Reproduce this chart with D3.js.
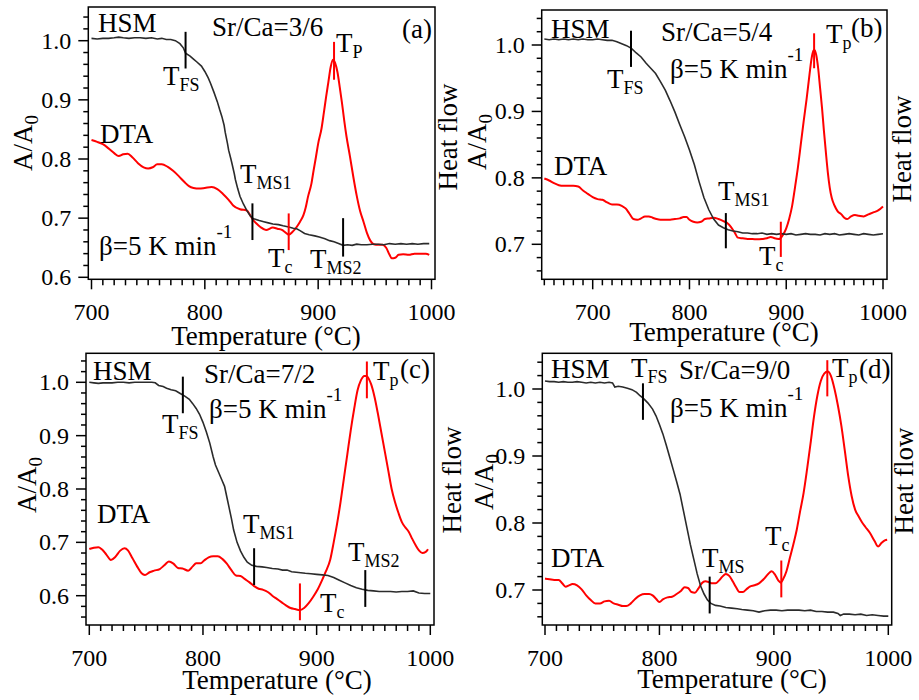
<!DOCTYPE html>
<html><head><meta charset="utf-8">
<script src="https://cdn.jsdelivr.net/npm/d3@7"></script>
<style>
body{margin:0;background:#fff}
svg{display:block}
text{font-family:"Liberation Serif","Times New Roman",serif;fill:#000}
</style>
</head><body>
<svg id="chart" width="919" height="700"></svg>
<script>
// ---------------- DATA ----------------
// HSM curves: [temperature °C, A/A0]
const hsmA = [[700,1.004],[705,1.003],[710,1.004],[715,1.004],[720,1.005],[724,1.006],[728,1.005],[733,1.004],[738,1.005],[743,1.005],[748,1.004],[753,1.005],[758,1.003],[762,1.004],[766,1.002],[770,1.002],[774,1.000],[778,0.995],[781,0.988],[783,0.979],[787,0.974],[790,0.969],[793,0.964],[797,0.957],[800,0.948],[803,0.937],[805,0.928],[808,0.913],[811,0.897],[813,0.884],[815,0.872],[817,0.857],[818,0.845],[820,0.826],[821,0.815],[823,0.800],[824,0.792],[826,0.775],[827,0.765],[829,0.750],[831,0.737],[834,0.724],[837,0.713],[840,0.704],[843,0.699],[848,0.696],[852,0.694],[856,0.692],[860,0.690],[865,0.689],[869,0.687],[874,0.685],[878,0.683],[881,0.682],[884,0.679],[888,0.674],[892,0.672],[897,0.670],[901,0.668],[906,0.665],[910,0.662],[914,0.660],[918,0.657],[922,0.654],[926,0.655],[930,0.654],[934,0.656],[938,0.655],[943,0.655],[948,0.656],[953,0.656],[958,0.655],[963,0.657],[968,0.656],[973,0.657],[978,0.656],[983,0.657],[988,0.656],[993,0.657],[998,0.657]];
const hsmB = [[650,1.009],[655,1.008],[660,1.009],[665,1.008],[670,1.009],[675,1.008],[680,1.009],[685,1.008],[690,1.009],[695,1.008],[700,1.008],[705,1.009],[710,1.008],[715,1.007],[720,1.007],[725,1.005],[730,1.002],[735,0.999],[740,0.995],[745,0.988],[750,0.982],[755,0.973],[760,0.965],[765,0.957],[770,0.945],[775,0.932],[780,0.916],[785,0.899],[790,0.880],[795,0.862],[800,0.842],[805,0.820],[810,0.794],[815,0.770],[820,0.752],[825,0.738],[830,0.729],[835,0.725],[840,0.722],[845,0.720],[850,0.719],[855,0.717],[860,0.717],[865,0.716],[870,0.716],[875,0.717],[880,0.715],[885,0.716],[890,0.715],[895,0.716],[900,0.715],[905,0.716],[910,0.714],[915,0.715],[920,0.716],[925,0.715],[930,0.715],[935,0.714],[940,0.716],[945,0.715],[950,0.716],[955,0.714],[960,0.715],[965,0.716],[970,0.715],[975,0.714],[980,0.716],[985,0.715],[990,0.714],[995,0.715],[1000,0.716]];
const hsmC = [[700,1.000],[704,0.999],[708,0.998],[712,0.999],[716,0.999],[720,0.999],[725,1.000],[730,1.000],[735,0.999],[740,1.000],[745,1.000],[750,1.000],[755,1.000],[758,0.999],[761,0.994],[765,0.992],[768,0.989],[772,0.986],[776,0.984],[780,0.979],[784,0.974],[788,0.968],[791,0.960],[794,0.951],[797,0.940],[800,0.925],[803,0.907],[806,0.886],[809,0.860],[811,0.845],[814,0.830],[817,0.815],[819,0.805],[821,0.785],[823,0.765],[825,0.745],[827,0.723],[830,0.700],[833,0.684],[836,0.672],[839,0.663],[843,0.657],[847,0.655],[852,0.654],[856,0.653],[861,0.651],[866,0.650],[870,0.648],[874,0.648],[878,0.645],[882,0.644],[886,0.643],[890,0.642],[895,0.641],[900,0.640],[905,0.639],[910,0.638],[915,0.634],[920,0.629],[925,0.624],[930,0.619],[935,0.615],[940,0.612],[945,0.610],[950,0.609],[955,0.608],[960,0.608],[965,0.608],[970,0.607],[975,0.608],[980,0.608],[985,0.609],[990,0.605],[995,0.604],[1000,0.604]];
const hsmD = [[700,1.012],[704,1.011],[708,1.011],[712,1.010],[716,1.011],[720,1.010],[724,1.010],[728,1.011],[732,1.010],[736,1.009],[740,1.010],[744,1.009],[748,1.010],[752,1.009],[756,1.010],[759,1.009],[761,1.003],[764,1.004],[768,1.003],[772,1.001],[776,0.999],[780,0.995],[783,0.990],[786,0.986],[790,0.979],[794,0.970],[797,0.960],[800,0.947],[803,0.933],[806,0.916],[809,0.898],[812,0.880],[815,0.862],[818,0.843],[821,0.818],[824,0.793],[827,0.768],[830,0.746],[833,0.724],[836,0.706],[839,0.694],[842,0.685],[845,0.680],[849,0.677],[853,0.676],[858,0.674],[863,0.673],[868,0.672],[872,0.671],[877,0.670],[882,0.669],[887,0.667],[892,0.669],[897,0.670],[902,0.670],[907,0.669],[912,0.670],[917,0.670],[922,0.670],[927,0.669],[932,0.670],[937,0.668],[942,0.668],[947,0.667],[952,0.667],[956,0.665],[958,0.662],[961,0.664],[966,0.664],[971,0.663],[976,0.664],[981,0.662],[986,0.663],[991,0.662],[996,0.661],[1000,0.661]];

// DTA curves: [temperature °C, heat flow (arbitrary units, plotted on the right axis)]
const dtaA = [[700,0.832],[705,0.829],[710,0.825],[715,0.818],[720,0.810],[724,0.805],[728,0.808],[732,0.809],[736,0.803],[741,0.793],[746,0.786],[750,0.784],[754,0.786],[758,0.791],[762,0.791],[767,0.787],[772,0.780],[777,0.771],[782,0.761],[786,0.754],[790,0.751],[795,0.750],[800,0.751],[806,0.7525],[811,0.749],[816,0.741],[821,0.731],[825,0.7215],[831,0.715],[837,0.713],[840,0.705],[843,0.696],[846,0.690],[849,0.685],[854,0.680],[860,0.684],[864,0.682],[868,0.680],[871,0.676],[874,0.672],[878,0.678],[881,0.685],[884,0.694],[887,0.705],[889,0.718],[891,0.736],[894,0.758],[896,0.781],[898,0.803],[900,0.826],[903,0.852],[905,0.878],[907,0.905],[909,0.930],[911,0.955],[913,0.968],[915,0.962],[917,0.947],[919,0.922],[921,0.895],[923,0.865],[925,0.838],[928,0.805],[931,0.770],[934,0.738],[937,0.712],[940,0.694],[943,0.675],[946,0.662],[949,0.656],[953,0.655],[957,0.655],[960,0.650],[963,0.638],[965,0.632],[968,0.633],[971,0.638],[975,0.639],[980,0.638],[985,0.640],[990,0.640],[995,0.640],[998,0.638]];
const dtaB = [[650,0.799],[655,0.796],[660,0.792],[665,0.789],[670,0.788],[675,0.788],[680,0.788],[685,0.787],[690,0.781],[695,0.776],[700,0.771],[705,0.768],[710,0.767],[715,0.763],[720,0.760],[725,0.760],[730,0.758],[734,0.754],[738,0.746],[742,0.738],[746,0.737],[750,0.739],[754,0.742],[758,0.742],[762,0.740],[766,0.738],[770,0.737],[775,0.737],[780,0.737],[785,0.738],[790,0.739],[794,0.741],[797,0.741],[800,0.737],[804,0.734],[808,0.733],[812,0.734],[816,0.738],[820,0.739],[825,0.740],[830,0.738],[835,0.735],[839,0.732],[843,0.726],[847,0.717],[850,0.710],[855,0.709],[860,0.708],[865,0.708],[870,0.7075],[875,0.708],[880,0.709],[884,0.711],[888,0.709],[892,0.708],[894,0.709],[897,0.715],[900,0.724],[903,0.738],[906,0.757],[909,0.785],[912,0.815],[915,0.850],[918,0.885],[921,0.918],[924,0.955],[926,0.978],[928,0.991],[929,0.993],[931,0.985],[933,0.965],[935,0.935],[937,0.905],[939,0.870],[941,0.838],[943,0.808],[945,0.785],[947,0.770],[950,0.758],[953,0.750],[957,0.745],[960,0.740],[963,0.738],[967,0.742],[971,0.744],[975,0.743],[980,0.742],[985,0.745],[990,0.748],[995,0.751],[1000,0.757]];
const dtaC = [[700,0.6875],[704,0.690],[708,0.691],[711,0.687],[715,0.677],[719,0.667],[723,0.673],[727,0.684],[731,0.689],[734,0.685],[738,0.670],[742,0.655],[746,0.642],[749,0.639],[753,0.644],[757,0.647],[762,0.650],[766,0.657],[770,0.664],[774,0.660],[778,0.652],[782,0.651],[787,0.647],[791,0.655],[794,0.661],[798,0.661],[801,0.666],[805,0.672],[809,0.674],[813,0.674],[817,0.669],[821,0.660],[825,0.648],[829,0.638],[833,0.637],[837,0.631],[841,0.625],[845,0.618],[849,0.613],[853,0.611],[857,0.607],[861,0.600],[865,0.594],[869,0.588],[873,0.582],[877,0.577],[881,0.575],[885,0.573],[889,0.577],[893,0.586],[897,0.598],[901,0.612],[905,0.630],[908,0.645],[912,0.668],[915,0.700],[918,0.735],[921,0.775],[924,0.820],[927,0.865],[930,0.910],[933,0.950],[936,0.985],[939,1.004],[942,1.012],[944,1.012],[946,1.006],[948,0.996],[951,0.972],[954,0.940],[957,0.905],[960,0.870],[963,0.835],[966,0.800],[969,0.775],[972,0.755],[975,0.738],[978,0.728],[981,0.720],[984,0.707],[987,0.695],[990,0.685],[993,0.680],[996,0.682],[998,0.687]];
const dtaD = [[700,0.717],[704,0.716],[708,0.715],[712,0.715],[715,0.710],[718,0.705],[721,0.707],[724,0.709],[728,0.707],[732,0.701],[736,0.692],[740,0.685],[744,0.680],[748,0.680],[752,0.683],[756,0.684],[760,0.680],[764,0.678],[768,0.676],[771,0.676],[775,0.680],[779,0.687],[783,0.692],[787,0.694],[791,0.694],[794,0.692],[797,0.687],[800,0.682],[803,0.686],[807,0.689],[811,0.690],[815,0.694],[819,0.699],[822,0.704],[825,0.703],[828,0.697],[831,0.696],[834,0.702],[837,0.710],[840,0.713],[843,0.712],[846,0.710],[849,0.710],[852,0.714],[855,0.720],[858,0.724],[861,0.721],[864,0.713],[867,0.704],[870,0.697],[873,0.697],[876,0.701],[879,0.705],[883,0.707],[887,0.710],[891,0.716],[895,0.724],[898,0.728],[901,0.723],[904,0.714],[906,0.711],[908,0.716],[911,0.728],[914,0.748],[917,0.768],[920,0.790],[923,0.818],[926,0.845],[929,0.880],[932,0.918],[935,0.958],[938,0.990],[941,1.012],[944,1.023],[947,1.026],[950,1.019],[953,1.000],[956,0.975],[959,0.945],[962,0.908],[965,0.870],[968,0.840],[971,0.820],[974,0.810],[977,0.801],[980,0.794],[984,0.785],[988,0.773],[991,0.765],[994,0.770],[997,0.774],[999,0.775]];

// Characteristic-temperature markers: [temperature, lower value, upper value]
const hsmMarksA = [[783,0.953,1.015],[842,0.663,0.725],[922,0.635,0.700]];
const dtaMarksA = [[874,0.646,0.708],[914,0.934,0.998]];
const hsmMarksB = [[739.6,0.967,1.0215],[837.6,0.694,0.747]];
const dtaMarksB = [[894.4,0.681,0.734],[928.8,0.965,1.0176]];
const hsmMarksC = [[782.3,0.942,1.0106],[845,0.620,0.689],[942.8,0.579,0.648]];
const dtaMarksC = [[885.3,0.554,0.623],[944.2,0.970,1.039]];
const hsmMarksD = [[785.6,0.954,1.0085],[843.9,0.665,0.720]];
const dtaMarksD = [[906.5,0.689,0.744],[946.7,0.989,1.043]];

// Tick labels
const xLabelsA = [700,800,900,1000], yLabelsA = [0.6,0.7,0.8,0.9,1.0];
const xLabelsB = [700,800,900,1000], yLabelsB = [0.7,0.8,0.9,1.0];
const xLabelsC = [700,800,900,1000], yLabelsC = [0.6,0.7,0.8,0.9,1.0];
const xLabelsD = [700,800,900,1000], yLabelsD = [0.7,0.8,0.9,1.0];

// Texts
const compositions = ["Sr/Ca=3/6","Sr/Ca=5/4","Sr/Ca=7/2","Sr/Ca=9/0"];
const panelTags = ["(a)","(b)","(c)","(d)"];
const xTitle = "Temperature (°C)";
const yTitle = ["A/A","0"];
const y2Title = "Heat flow";

// ---------------- LAYOUT ----------------
const panels = [
  {hsm:hsmA, dta:dtaA, hm:hsmMarksA, dm:dtaMarksA, xl:xLabelsA, yl:yLabelsA,
   frame:[88.3,7,435,279.3], xDom:[700,1000], xRng:[91.5,431.5], yDom:[1.0,0.6], yRng:[40.7,277.3],
   xMinor:[700,1000], yMinor:[0.6,1.04],
   xTitle:[266,345], yTitle:[32,143], y2Title:[457,137],
   labels:[
     {m:"HSM",x:98,y:32},{m:compositions[0],x:212,y:36},{m:panelTags[0],x:402,y:38},
     {m:"T",s:"FS",x:163,y:85},{m:"DTA",x:100,y:143},{m:"T",s:"MS1",x:240,y:183},
     {m:"β=5 K min",p:"-1",x:99,y:255},{m:"T",s:"c",x:268,y:267},{m:"T",s:"MS2",x:310,y:268},
     {m:"T",s:"P",x:336,y:52}]},
  {hsm:hsmB, dta:dtaB, hm:hsmMarksB, dm:dtaMarksB, xl:xLabelsB, yl:yLabelsB,
   frame:[541.7,10,887,279.3], xDom:[700,1000], xRng:[592.7,883], yDom:[1.0,0.7], yRng:[45,244.3],
   xMinor:[650,1000], yMinor:[0.66,1.04],
   xTitle:[724,341], yTitle:[486,142], y2Title:[911,149],
   labels:[
     {m:"HSM",x:551,y:38},{m:compositions[1],x:661,y:41},{m:panelTags[1],x:851,y:37},
     {m:"β=5 K min",p:"-1",x:670,y:78},
     {m:"T",s:"FS",x:607,y:88},{m:"DTA",x:554,y:175},{m:"T",s:"MS1",x:718,y:200},
     {m:"T",s:"c",x:759,y:265},{m:"T",s:"p",x:826,y:43}]},
  {hsm:hsmC, dta:dtaC, hm:hsmMarksC, dm:dtaMarksC, xl:xLabelsC, yl:yLabelsC,
   frame:[86,353.3,434,625], xDom:[700,1000], xRng:[89.3,430.3], yDom:[1.0,0.6], yRng:[382.3,595.7],
   xMinor:[700,1000], yMinor:[0.56,1.04],
   xTitle:[277,689], yTitle:[36,485], y2Title:[461,480],
   labels:[
     {m:"HSM",x:93,y:380},{m:compositions[2],x:204,y:383},{m:panelTags[2],x:400,y:378},
     {m:"β=5 K min",p:"-1",x:209,y:418},
     {m:"T",s:"FS",x:162,y:433},{m:"DTA",x:97,y:523},{m:"T",s:"MS1",x:243,y:533},
     {m:"T",s:"c",x:320,y:612},{m:"T",s:"MS2",x:348,y:561},{m:"T",s:"p",x:373,y:380}]},
  {hsm:hsmD, dta:dtaD, hm:hsmMarksD, dm:dtaMarksD, xl:xLabelsD, yl:yLabelsD,
   frame:[542.3,353.3,891.7,625], xDom:[700,1000], xRng:[545,888.3], yDom:[1.0,0.7], yRng:[389,590],
   xMinor:[700,1000], yMinor:[0.66,1.04],
   xTitle:[732,688], yTitle:[493,482], y2Title:[913,481],
   labels:[
     {m:"HSM",x:551,y:378},{m:"T",s:"FS",x:631,y:377},{m:compositions[3],x:679,y:379},
     {m:panelTags[3],x:859,y:378},{m:"β=5 K min",p:"-1",x:670,y:417},
     {m:"T",s:"p",x:832,y:377},{m:"DTA",x:551,y:567},{m:"T",s:"MS",x:702,y:567},
     {m:"T",s:"c",x:765,y:545}]}
];

const HSM_COLOR = "#2b2b2b", DTA_COLOR = "#ff0000";
const svg = d3.select("#chart");

function addText(g, L, size) {
  const t = g.append("text").attr("x", L.x).attr("y", L.y).attr("font-size", size || 27);
  t.append("tspan").text(L.m);
  if (L.s) t.append("tspan").attr("dy", 6).attr("font-size", 18).text(L.s);
  if (L.p) t.append("tspan").attr("dy", -17).attr("font-size", 19).text(L.p);
  return t;
}

panels.forEach(P => {
  const g = svg.append("g");
  const x = d3.scaleLinear().domain(P.xDom).range(P.xRng);
  const y = d3.scaleLinear().domain(P.yDom).range(P.yRng);
  const yHeat = d3.scaleLinear().domain(P.yDom).range(P.yRng); // right (Heat flow) axis, no ticks
  const [fl, ft, fr, fb] = P.frame;

  // x ticks (outward, below frame)
  const xMin = d3.range(P.xMinor[0], P.xMinor[1] + 0.1, 10);
  g.append("g").selectAll("line").data(xMin).join("line")
    .attr("x1", d => x(d)).attr("x2", d => x(d))
    .attr("y1", fb).attr("y2", d => fb + (d % 100 === 0 ? 10 : 6))
    .attr("stroke", "#000").attr("stroke-width", 1.5);
  g.append("g").selectAll("text").data(P.xl).join("text")
    .attr("x", d => x(d)).attr("y", fb + 41).attr("text-anchor", "middle")
    .attr("font-size", 24).text(d => d);

  // y ticks (outward, left of frame)
  const yMin = d3.range(Math.round(P.yMinor[0]*100), Math.round(P.yMinor[1]*100) + 1, 2);
  g.append("g").selectAll("line").data(yMin).join("line")
    .attr("x1", fl).attr("x2", d => fl - (d % 10 === 0 ? 10 : 5))
    .attr("y1", d => y(d/100)).attr("y2", d => y(d/100))
    .attr("stroke", "#000").attr("stroke-width", 1.5);
  g.append("g").selectAll("text").data(P.yl).join("text")
    .attr("x", fl - 17).attr("y", d => y(d) + 8).attr("text-anchor", "end")
    .attr("font-size", 24).text(d => d.toFixed(1));

  // frame
  g.append("rect").attr("x", fl).attr("y", ft).attr("width", fr - fl).attr("height", fb - ft)
    .attr("fill", "none").attr("stroke", "#000").attr("stroke-width", 1.5);

  // curves
  g.append("path").datum(P.dta)
    .attr("d", d3.line().x(d => x(d[0])).y(d => yHeat(d[1])).curve(d3.curveMonotoneX))
    .attr("fill", "none").attr("stroke", DTA_COLOR).attr("stroke-width", 2);
  g.append("path").datum(P.hsm)
    .attr("d", d3.line().x(d => x(d[0])).y(d => y(d[1])))
    .attr("fill", "none").attr("stroke", HSM_COLOR).attr("stroke-width", 1.6);

  // markers
  g.append("g").selectAll("line").data(P.hm).join("line")
    .attr("x1", d => x(d[0])).attr("x2", d => x(d[0]))
    .attr("y1", d => y(d[1])).attr("y2", d => y(d[2]))
    .attr("stroke", "#000").attr("stroke-width", 2);
  g.append("g").selectAll("line").data(P.dm).join("line")
    .attr("x1", d => x(d[0])).attr("x2", d => x(d[0]))
    .attr("y1", d => yHeat(d[1])).attr("y2", d => yHeat(d[2]))
    .attr("stroke", DTA_COLOR).attr("stroke-width", 2);

  // annotations
  P.labels.forEach(L => addText(g, L));

  // axis titles
  g.append("text").attr("x", P.xTitle[0]).attr("y", P.xTitle[1]).attr("text-anchor", "middle")
    .attr("font-size", 27).text(xTitle);
  const yt = g.append("text").attr("transform", `translate(${P.yTitle[0]},${P.yTitle[1]}) rotate(-90)`)
    .attr("text-anchor", "middle").attr("font-size", 27);
  yt.append("tspan").text(yTitle[0]);
  yt.append("tspan").attr("dy", 6).attr("font-size", 19).text(yTitle[1]);
  g.append("text").attr("transform", `translate(${P.y2Title[0]},${P.y2Title[1]}) rotate(-90)`)
    .attr("text-anchor", "middle").attr("font-size", 27).text(y2Title);
});
</script>
</body></html>
